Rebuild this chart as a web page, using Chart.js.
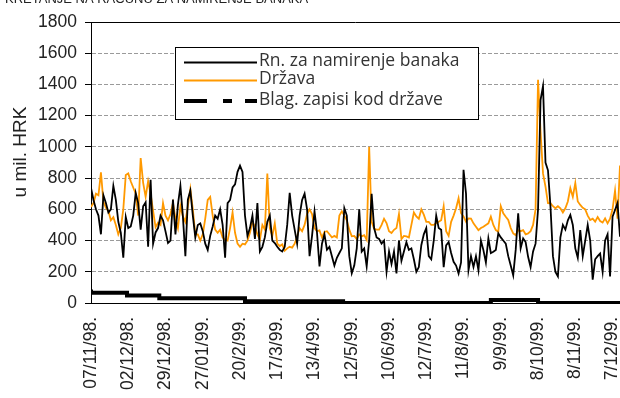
<!DOCTYPE html>
<html>
<head>
<meta charset="utf-8">
<script src="https://cdn.jsdelivr.net/npm/chart.js@4.4.1/dist/chart.umd.min.js"></script>
<style>
  html, body { margin: 0; padding: 0; background: #fff; }
  #wrap { width: 620px; height: 398px; position: relative; overflow: hidden; }
</style>
</head>
<body>
<div id="wrap"><canvas id="chart" width="620" height="398"></canvas></div>
<script>
// Daily balances (million HRK), one value per business day.
const tickLabels = ['07/11/98.', '02/12/98.', '29/12/98.', '27/01/99.', '20/2/99.', '17/3/99.',
  '13/4/99.', '12/5/99.', '10/6/99.', '12/7/99.', '11/8/99.', '9/9/99.', '8/10/99.', '8/11/99.', '7/12/99.'];
const daysPerLabel = 15;

const settlementAccounts = [
  737, 660, 600, 560, 440, 690, 640, 580, 600, 750, 660, 520, 450, 290, 550, 480, 490, 560, 705, 640,
  470, 620, 645, 360, 790, 380, 452, 480, 560, 530, 459, 384, 400, 662, 440, 630, 750, 555, 300, 662,
  720, 560, 420, 500, 510, 460, 380, 340, 430, 490, 560, 540, 600, 500, 290, 640, 660, 740, 760, 840,
  880, 840, 560, 430, 480, 560, 410, 640, 330, 360, 420, 520, 560, 400, 384, 360, 340, 330, 360, 500,
  705, 560, 470, 380, 560, 660, 700, 600, 300, 430, 587, 450, 234, 380, 440, 341, 360, 300, 240, 290,
  320, 350, 608, 560, 300, 190, 240, 350, 600, 330, 350, 234, 400, 700, 480, 420, 410, 380, 400, 200,
  330, 250, 330, 190, 400, 270, 330, 390, 340, 350, 280, 200, 230, 370, 440, 480, 300, 280, 400, 560,
  480, 469, 230, 370, 390, 320, 264, 240, 189, 260, 853, 700, 210, 300, 231, 300, 210, 400, 339, 260,
  414, 320, 328, 340, 446, 420, 400, 380, 300, 240, 178, 340, 575, 350, 414, 390, 296, 230, 330, 380,
  600, 1300, 1389, 900, 850, 620, 300, 199, 170, 420, 500, 470, 530, 564, 500, 350, 290, 467, 300, 400,
  500, 400, 150, 280, 300, 317, 200, 400, 440, 170, 553, 596, 640, 424
];

const government = [
  615, 640, 700, 690, 837, 650, 610, 590, 530, 550, 500, 440, 480, 600, 820, 830, 780, 740, 700, 560,
  929, 770, 680, 780, 700, 590, 485, 515, 500, 640, 560, 530, 570, 640, 540, 480, 620, 555, 520, 620,
  730, 600, 440, 440, 400, 440, 540, 660, 680, 560, 470, 450, 470, 420, 405, 400, 480, 580, 450, 380,
  360, 380, 375, 400, 450, 520, 490, 440, 405, 500, 470, 830, 480, 430, 510, 380, 365, 375, 335, 350,
  360, 355, 380, 427, 480, 460, 500, 570, 600, 570, 480, 460, 465, 420, 455, 460, 440, 420, 430, 420,
  560, 587, 560, 530, 470, 427, 430, 410, 440, 427, 435, 405, 1000, 520, 475, 470, 470, 500, 540, 512,
  460, 448, 469, 480, 570, 410, 430, 427, 420, 500, 580, 555, 540, 600, 566, 520, 520, 500, 500, 512,
  520, 530, 619, 460, 430, 520, 560, 607, 671, 575, 555, 521, 542, 540, 510, 489, 467, 480, 489, 500,
  510, 553, 500, 467, 457, 620, 575, 553, 532, 480, 446, 435, 467, 460, 467, 440, 446, 460, 500, 600,
  1430, 1100, 830, 746, 640, 639, 620, 607, 620, 607, 580, 607, 650, 735, 680, 768, 650, 628, 610, 600,
  560, 532, 540, 521, 550, 525, 515, 542, 510, 540, 600, 720, 540, 880
];

// Treasury bills held by the state: day index where each level starts, and the level.
const tbillStartDay = [0, 14.5, 27.5, 62, 101.5, 161, 180, 201, 213];
const tbillLevels   = [86, 65, 48, 30, 12, 0, 20, 0, 0];

const seriesNames = ['Rn. za namirenje banaka', 'Država', 'Blag. zapisi kod države'];

const toPoints = arr => arr.map((v, i) => ({ x: i, y: v }));
const lastDay = settlementAccounts.length - 1;

const TICK_FONT = { family: "'Liberation Sans', Arial, sans-serif", size: 17.5 };
const LEGEND_FONT = "17.5px 'Open Sans', 'DejaVu Sans', sans-serif";

const decorations = {
  id: 'decorations',
  afterDraw(chart) {
    const { ctx, chartArea: a } = chart;
    ctx.save();
    // plot frame top edge
    ctx.strokeStyle = '#000';
    ctx.lineWidth = 1;
    ctx.beginPath();
    ctx.moveTo(a.left, a.top + 0.5);
    ctx.lineTo(a.right, a.top + 0.5);
    ctx.stroke();

    // heading (partly above the page edge)
    ctx.fillStyle = '#222';
    ctx.font = "13px 'Liberation Sans', Arial, sans-serif";
    ctx.textBaseline = 'alphabetic';
    ctx.textAlign = 'left';
    ctx.fillText('KRETANJE NA RAČUNU ZA NAMIRENJE BANAKA', 5, 3);

    // y axis title
    ctx.save();
    ctx.translate(21, 152);
    ctx.rotate(-Math.PI / 2);
    ctx.textAlign = 'center';
    ctx.textBaseline = 'middle';
    ctx.font = "19px 'Liberation Sans', Arial, sans-serif";
    ctx.fillText('u mil. HRK', 0, 0);
    ctx.restore();

    // legend box
    const bx = 175.5, by = 47.5, bw = 303, bh = 72;
    ctx.fillStyle = '#fff';
    ctx.fillRect(bx, by, bw, bh);
    ctx.strokeStyle = '#000';
    ctx.lineWidth = 1;
    ctx.strokeRect(bx, by, bw, bh);

    const rows = [
      { y: 62.5, color: '#000', width: 1.8, dash: [] },
      { y: 80.5, color: '#FF9900', width: 1.8, dash: [] },
      { y: 101, color: '#000', width: 4, dash: [23, 16, 9, 13] }
    ];
    ctx.font = LEGEND_FONT;
    ctx.textAlign = 'left';
    ctx.textBaseline = 'middle';
    rows.forEach((r, i) => {
      ctx.beginPath();
      ctx.setLineDash(r.dash);
      ctx.strokeStyle = r.color;
      ctx.lineWidth = r.width;
      ctx.moveTo(184, r.y);
      ctx.lineTo(257, r.y);
      ctx.stroke();
      ctx.setLineDash([]);
      ctx.fillStyle = '#333';
      ctx.fillText(seriesNames[i], 259, r.y - 1);
    });
    ctx.restore();
  }
};

new Chart(document.getElementById('chart'), {
  type: 'line',
  data: {
    datasets: [
      {
        label: seriesNames[0],
        data: toPoints(settlementAccounts),
        borderColor: '#000',
        borderWidth: 1.8,
        pointRadius: 0,
        tension: 0,
        order: 2
      },
      {
        label: seriesNames[1],
        data: toPoints(government),
        borderColor: '#FF9900',
        borderWidth: 1.8,
        pointRadius: 0,
        tension: 0,
        order: 3
      },
      {
        label: seriesNames[2],
        data: tbillStartDay.map((d, i) => ({ x: d, y: tbillLevels[i] })),
        borderColor: '#000',
        borderWidth: 4,
        pointRadius: 0,
        stepped: 'after',
        order: 1
      }
    ]
  },
  options: {
    responsive: false,
    animation: false,
    devicePixelRatio: 1,
    layout: { padding: { top: 22, right: 0, bottom: 0, left: 0 } },
    plugins: { legend: { display: false }, tooltip: { enabled: false } },
    scales: {
      x: {
        type: 'linear',
        min: 0,
        max: lastDay,
        grid: { drawOnChartArea: false, drawTicks: false },
        border: { color: '#000', width: 1 },
        afterBuildTicks: s => { s.ticks = tickLabels.map((_, i) => ({ value: i * daysPerLabel })); },
        afterFit: s => { s.height = 95; s.paddingLeft = 0; s.paddingRight = 0; },
        ticks: {
          autoSkip: false,
          maxRotation: 90,
          minRotation: 90,
          padding: 14,
          color: '#222',
          font: TICK_FONT,
          callback: v => tickLabels[Math.round(v / daysPerLabel)]
        }
      },
      y: {
        min: 0,
        max: 1800,
        grid: { color: '#9a9a9a', lineWidth: 1, tickLength: 6, tickColor: '#000' },
        border: { color: '#000', width: 1, dash: [4, 2] },
        afterFit: s => { s.width = 91; s.paddingTop = 0; s.paddingBottom = 0; },
        ticks: { stepSize: 200, padding: 8, color: '#222', font: TICK_FONT, callback: v => String(v) }
      }
    }
  },
  plugins: [decorations]
});
</script>
</body>
</html>
